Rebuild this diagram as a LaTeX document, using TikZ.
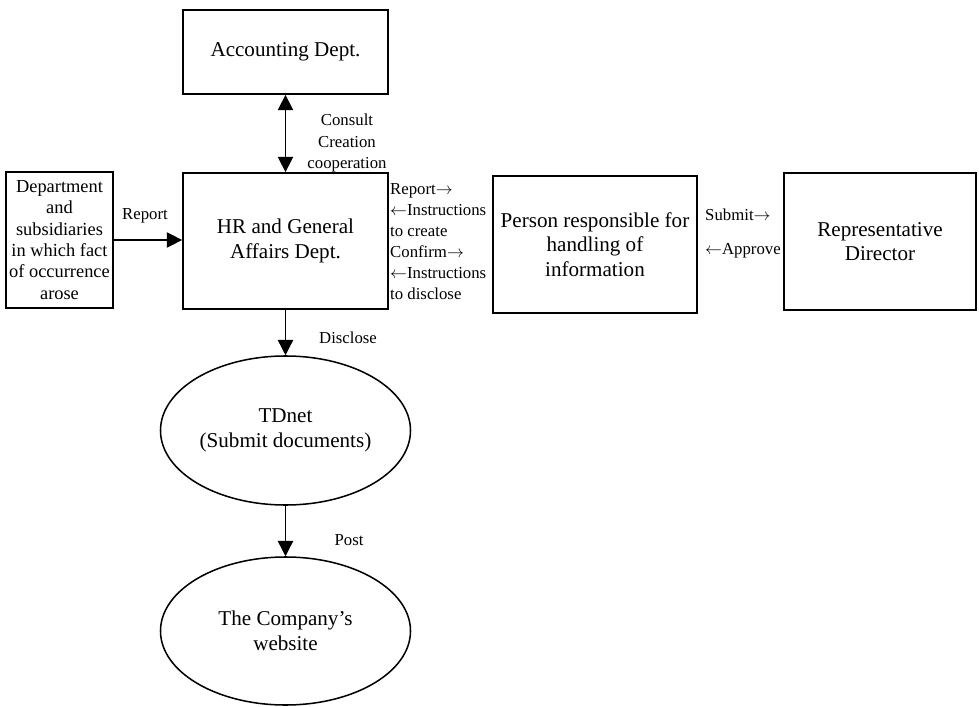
\documentclass[tikz,border=0pt]{standalone}
\usepackage{fontspec}
\setmainfont{Liberation Serif}
\usetikzlibrary{shapes, calc, arrows.meta}

\begin{document}
\begin{tikzpicture}[x=0.03cm, y=-0.03cm,
	box/.style={draw, line width=1.5pt, inner sep=0pt, align=center, font=\fontsize{18}{21}\selectfont},
	oval/.style={ellipse, draw, line width=1.3pt, inner sep=0pt, align=center, font=\fontsize{18}{21}\selectfont},
	lbl/.style={inner sep=0pt, font=\fontsize{14.3}{18}\selectfont},
	flow/.style={-{Triangle[length=4.6mm, width=4.6mm]}, line width=1.2pt},
	twoway/.style={{Triangle[length=4.6mm, width=4.6mm]}-{Triangle[length=4.6mm, width=4.6mm]}, line width=1.2pt}]
	\useasboundingbox (0,0) rectangle (979,707);

	% Drawing the boxes
	\node[box, minimum width=6.15cm, minimum height=2.52cm] (acc) at (285.5,52) {Accounting Dept.};
	\node[box, minimum width=6.15cm, minimum height=4.08cm] (hr) at (285.5,241) {HR and General\\Affairs Dept.};
	\node[box, minimum width=3.21cm, minimum height=4.08cm, font=\fontsize{15.7}{18.2}\selectfont] (dept) at (59.5,240)
		{Department\\and\\subsidiaries\\in which fact\\of occurrence\\arose};
	\node[box, minimum width=6.12cm, minimum height=4.11cm] (resp) at (595,244.5)
		{Person responsible for\\handling of\\information};
	\node[box, minimum width=5.76cm, minimum height=4.11cm] (rep) at (880,241.5) {Representative\\Director};

	% Drawing the ellipses
	\node[oval, minimum width=7.5cm, minimum height=4.47cm] (tdnet) at (285.5,430.5) {TDnet\\(Submit documents)};
	\node[oval, minimum width=7.5cm, minimum height=4.44cm] (web) at (285.5,631) {The Company’s\\website};

	% Drawing the arrows
	\draw[twoway] (acc.south) -- (hr.north);
	\draw[flow] (dept.east) -- (dept.east -| hr.west);
	\draw[flow] (hr.south) -- (tdnet.north);
	\draw[flow] (tdnet.south) -- (web.north);

	% Drawing the labels
	\node[lbl] (lreport) at (145,216) {Report};
	\node[lbl, align=center] (lconsult) at (347,143) {Consult\\Creation\\cooperation};
	\node[lbl, align=left, anchor=north west] (lhr) at (390,183)
		{Report$\rightarrow$\\$\leftarrow$Instructions\\to create\\Confirm$\rightarrow$\\$\leftarrow$Instructions\\to disclose};
	\node[lbl, anchor=west] (lsubmit) at (705,215) {Submit$\rightarrow$};
	\node[lbl, anchor=west] (lapprove) at (705,251) {$\leftarrow$Approve};
	\node[lbl] (ldisclose) at (348,338) {Disclose};
	\node[lbl] (lpost) at (349,540) {Post};
\end{tikzpicture}
\end{document}
